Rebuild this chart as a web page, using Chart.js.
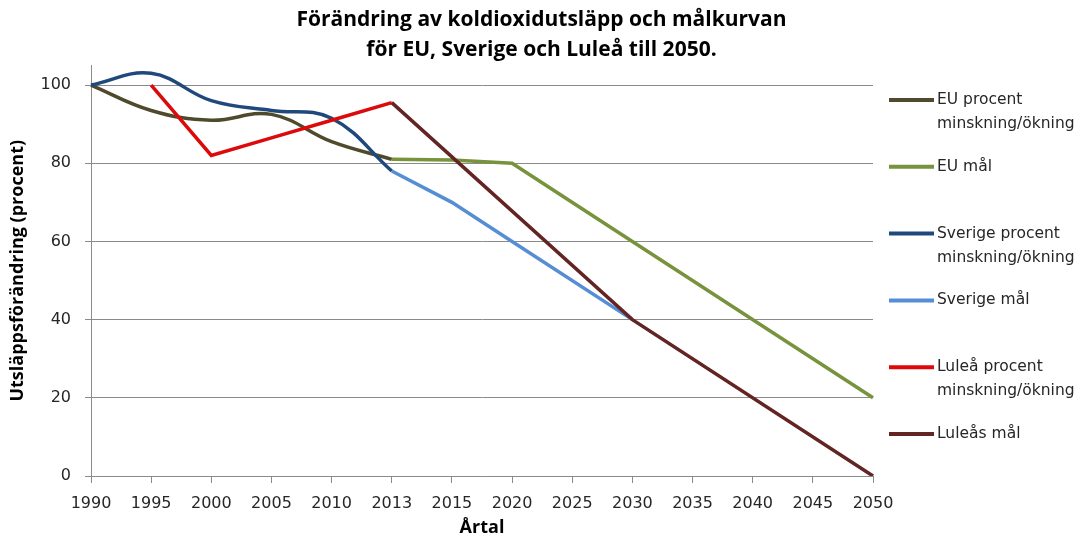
<!DOCTYPE html>
<html>
<head>
<meta charset="utf-8">
<script src="https://cdn.jsdelivr.net/npm/chart.js@4"></script>
<style>
  html, body { margin: 0; padding: 0; background: #fff; }
  #wrap { width: 1083px; height: 539px; }
</style>
</head>
<body>
<div id="wrap"><canvas id="chart" width="1083" height="539"></canvas></div>
<script>
const years = ['1990', '1995', '2000', '2005', '2010', '2013', '2015', '2020', '2025', '2030', '2035', '2040', '2045', '2050'];

const euProcent      = [100, 93.5, 91, 92.5, 85.5, 81, null, null, null, null, null, null, null, null];
const euMal          = [null, null, null, null, null, 81, 80.8, 80, null, 60, null, null, null, 20];
const sverigeProcent = [100, 103, 96, 93.5, 91.5, 78, null, null, null, null, null, null, null, null];
const sverigeMal     = [null, null, null, null, null, 78, 70, 60, null, 40, null, null, null, null];
const luleaProcent   = [null, 100, 82, 86.5, 91, 95.5, null, null, null, null, null, null, null, null];
const luleaMal       = [null, null, null, null, null, 95.5, null, null, null, 40, null, null, null, 0];

const yTicks = [0, 20, 40, 60, 80, 100];

const titleLines = ['Förändring av koldioxidutsläpp och målkurvan', 'för EU, Sverige och Luleå till 2050.'];

const grey = '#8a8a8a';
const boldFont = '"Open Sans", sans-serif';

// legend on the right side, with wrapped labels like the original
const sideLegend = {
  id: 'sideLegend',
  afterDraw(chart) {
    const ctx = chart.ctx;
    ctx.save();
    ctx.font = '15.5px "DejaVu Sans"';
    ctx.fillStyle = '#262626';
    ctx.textBaseline = 'middle';
    ctx.lineCap = 'butt';
    chart.data.datasets.forEach((ds, i) => {
      const y = 100 + i * 66.8;
      ctx.strokeStyle = ds.borderColor;
      ctx.lineWidth = 4;
      ctx.beginPath();
      ctx.moveTo(889, y);
      ctx.lineTo(934, y);
      ctx.stroke();
      ds.legendLines.forEach((t, j) => ctx.fillText(t, 937, y + j * 24));
    });
    ctx.restore();
  }
};

function line(label, legendLines, data, color, tension, order) {
  return {
    label, legendLines, data,
    borderColor: color,
    backgroundColor: color,
    borderWidth: 3.5,
    pointRadius: 0,
    tension,
    spanGaps: true,
    fill: false,
    order
  };
}

new Chart(document.getElementById('chart'), {
  type: 'line',
  data: {
    labels: years,
    datasets: [
      line('EU procent minskning/ökning', ['EU procent', 'minskning/ökning'], euProcent, '#4f4a2b', 0.4, 5),
      line('EU mål', ['EU mål'], euMal, '#77933c', 0, 4),
      line('Sverige procent minskning/ökning', ['Sverige procent', 'minskning/ökning'], sverigeProcent, '#1f497d', 0.4, 3),
      line('Sverige mål', ['Sverige mål'], sverigeMal, '#558ed5', 0, 2),
      line('Luleå procent minskning/ökning', ['Luleå procent', 'minskning/ökning'], luleaProcent, '#dc0a0a', 0, 1),
      line('Luleås mål', ['Luleås mål'], luleaMal, '#632523', 0, 0)
    ]
  },
  options: {
    responsive: false,
    animation: false,
    layout: { padding: 0 },
    plugins: {
      legend: { display: false },
      tooltip: { enabled: false },
      title: {
        display: true,
        text: titleLines,
        color: '#000',
        font: { family: boldFont, size: 21, weight: 'bold', lineHeight: '30px' },
        padding: { top: 5, bottom: 0.5 }
      }
    },
    scales: {
      x: {
        offset: false,
        grid: { drawOnChartArea: false, drawTicks: true, tickLength: 7, color: grey },
        border: { display: true, color: grey, width: 1 },
        ticks: { color: '#262626', font: { family: '"DejaVu Sans"', size: 16 }, padding: 11, maxRotation: 0, autoSkip: false },
        title: {
          display: true, text: 'Årtal', color: '#000',
          font: { family: boldFont, size: 18, weight: 'bold' },
          padding: { top: 0, bottom: 0 }
        },
        afterFit(scale) { scale.height = 63; }
      },
      y: {
        min: 0,
        max: 105,
        grid: { color: grey, lineWidth: 1, drawTicks: true, tickLength: 6, tickColor: grey },
        border: { display: true, color: grey, width: 1 },
        ticks: { stepSize: 20, color: '#262626', font: { family: '"DejaVu Sans"', size: 16 }, padding: 14 },
        afterBuildTicks(scale) { scale.ticks = yTicks.map(v => ({ value: v })); },
        title: {
          display: true, text: 'Utsläppsförändring (procent)', color: '#000',
          font: { family: boldFont, size: 18, weight: 'bold' },
          padding: { top: 7, bottom: 0 }
        },
        afterFit(scale) { scale.width = 91; }
      },
      // empty right axis that keeps room for the legend
      side: {
        position: 'right',
        min: 0,
        max: 105,
        grid: { drawOnChartArea: false, drawTicks: false },
        border: { display: false },
        ticks: { display: false },
        afterFit(scale) { scale.width = 210; }
      }
    }
  },
  plugins: [sideLegend]
});
</script>
</body>
</html>
